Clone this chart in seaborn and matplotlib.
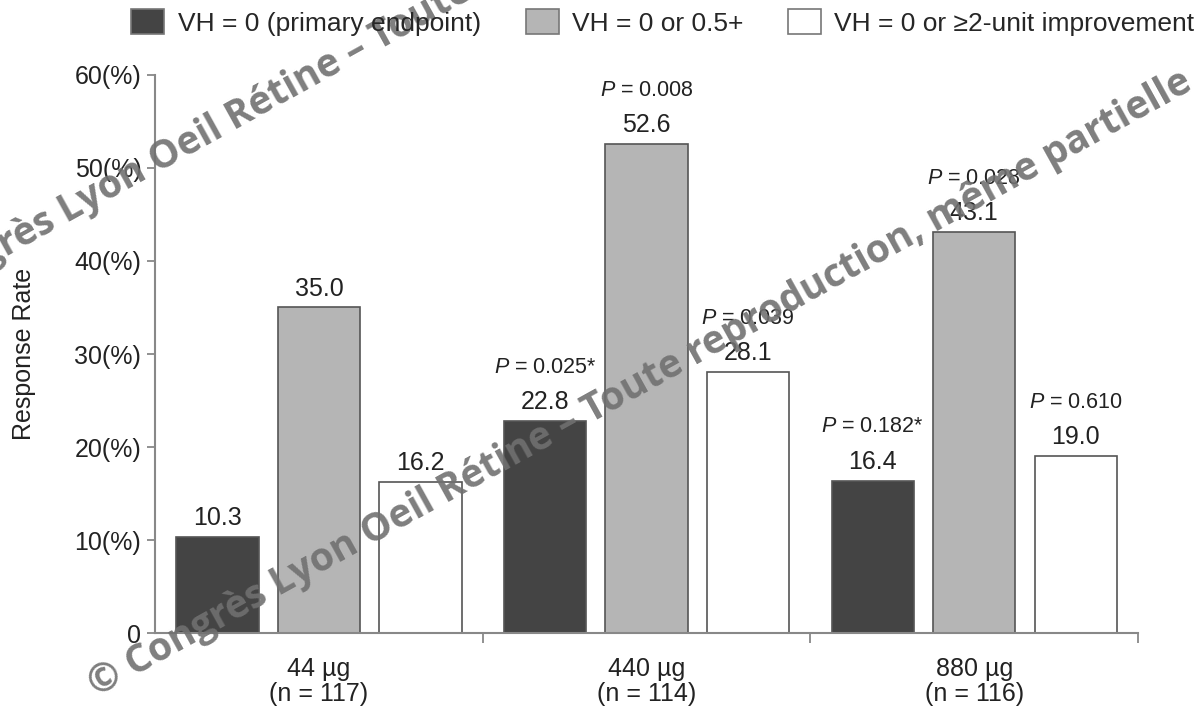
import pandas as pd
import matplotlib.pyplot as plt
import seaborn as sns
from matplotlib.patches import Patch

# chart data
doses = ["44 µg\n(n = 117)", "440 µg\n(n = 114)", "880 µg\n(n = 116)"]
measures = ["VH = 0 (primary endpoint)", "VH = 0 or 0.5+", "VH = 0 or ≥2-unit improvement"]
vh0 = [10.3, 22.8, 16.4]
vh0_half = [35.0, 52.6, 43.1]
vh0_2unit = [16.2, 28.1, 19.0]
p_vh0 = [None, "0.025*", "0.182*"]
p_half = [None, "0.008", "0.028"]
p_2unit = [None, "0.039", "0.610"]
y_ticks = [0, 10, 20, 30, 40, 50, 60]
y_ticklabels = ["0", "10(%)", "20(%)", "30(%)", "40(%)", "50(%)", "60(%)"]
colors = ["#444444", "#b5b5b5", "#ffffff"]

sns.set_theme(style="white")
plt.rcParams['font.family'] = ['Liberation Sans', 'DejaVu Sans']
plt.rcParams['mathtext.fontset'] = 'custom'
plt.rcParams['mathtext.rm'] = 'Liberation Sans'
plt.rcParams['mathtext.it'] = 'Liberation Sans:italic'

df = pd.DataFrame({
    'dose': doses * 3,
    'measure': [m for m in measures for _ in doses],
    'rate': vh0 + vh0_half + vh0_2unit,
})

fig = plt.figure(figsize=(12.03, 7.13), dpi=100)
ax = fig.add_axes([0.129, 0.112, 0.817, 0.783])

sns.barplot(data=df, x='dose', y='rate', hue='measure', hue_order=measures,
            palette=colors, width=0.93, gap=0.19, edgecolor="#555555",
            linewidth=1.2, saturation=1, legend=False, ax=ax)

txt = "#222222"
p_all = [p_vh0, p_half, p_2unit]
for cont, pvals in zip(ax.containers, p_all):
    for bar, p in zip(cont, pvals):
        x = bar.get_x() + bar.get_width() / 2
        h = bar.get_height()
        ax.annotate(f"{h:.1f}", (x, h), xytext=(0, 5), textcoords='offset points',
                    ha='center', va='bottom', fontsize=18, color=txt)
        if p is not None:
            ax.annotate(f"$P$ = {p}", (x, h), xytext=(0, 31), textcoords='offset points',
                        ha='center', va='bottom', fontsize=15.5, color=txt)

ax.set_xlim(-0.5, 2.5)
ax.set_ylim(0, 60)
ax.set_yticks(y_ticks)
ax.set_yticklabels(y_ticklabels, fontsize=18, color=txt)
ax.set_xticks(range(len(doses)))
ax.set_xticklabels(doses, fontsize=18, color=txt, linespacing=1.05)
ax.set_xticks([0.5, 1.5, 2.5], minor=True)
ax.tick_params(axis='x', which='major', length=0, pad=17)
ax.tick_params(axis='x', which='minor', length=7, width=1.3, color="#888888", bottom=True)
ax.tick_params(axis='y', length=6, width=1.3, color="#888888", left=True, pad=4)
ax.set_xlabel("")
ax.set_ylabel("Response Rate", fontsize=18, color=txt)
ax.yaxis.set_label_coords(-0.121, 0.5)
sns.despine(ax=ax)
for s in ['left', 'bottom']:
    ax.spines[s].set_color("#888888")
    ax.spines[s].set_linewidth(1.5)

handles = [Patch(facecolor=c, edgecolor="#777777", linewidth=1.2) for c in colors]
fig.legend(handles, measures, loc='upper center', bbox_to_anchor=(0.551, 1.02), ncol=3,
           frameon=False, fontsize=19, handlelength=1.25, handleheight=1.05,
           columnspacing=1.7, handletextpad=0.5)

# watermark
wm = "© Congrès Lyon Oeil Rétine – Toute reproduction, même partielle"
fig.text(0.08, 0.022, wm, rotation=29, rotation_mode='anchor', ha='left', va='baseline',
         fontsize=28, fontweight='bold', family='Open Sans', color="#707070", alpha=0.9)
fig.text(-0.096, 0.545, wm, rotation=29, rotation_mode='anchor', ha='left', va='baseline',
         fontsize=28, fontweight='bold', family='Open Sans', color="#707070", alpha=0.9)

fig.savefig("out.png", dpi=100)
